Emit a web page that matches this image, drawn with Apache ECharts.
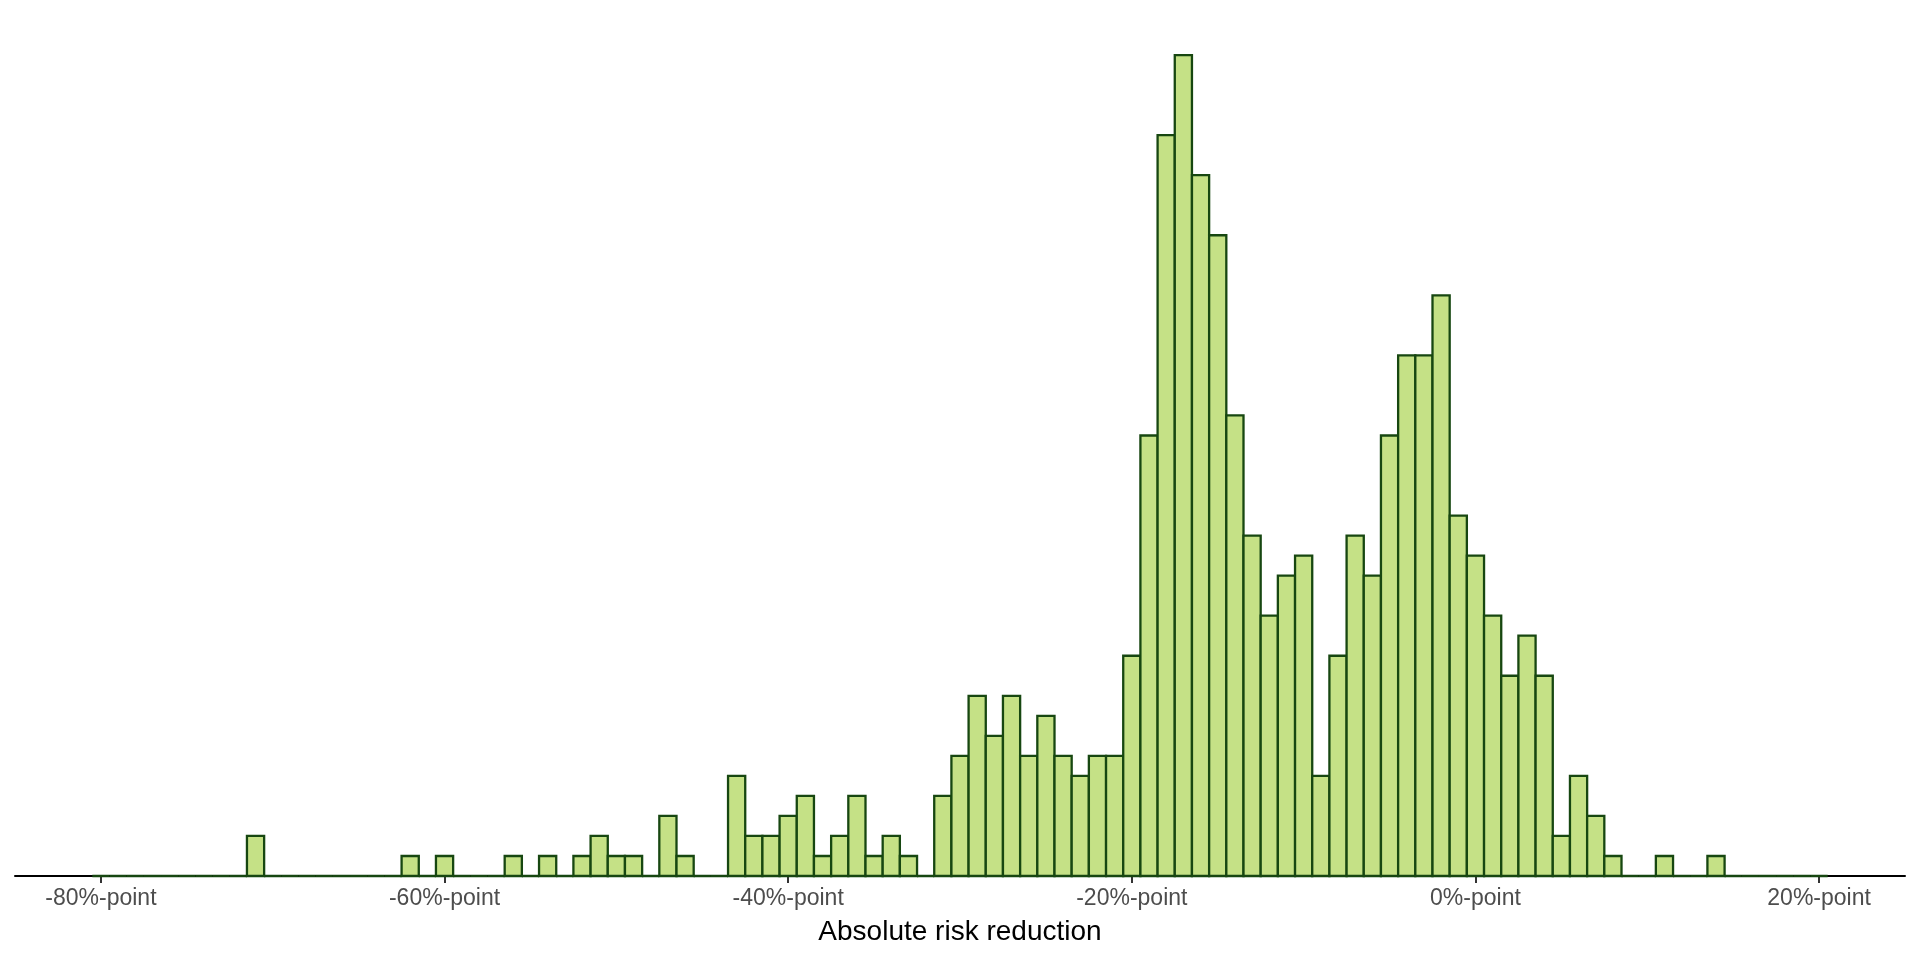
<!DOCTYPE html>
<html>
<head>
<meta charset="utf-8">
<script src="https://cdn.jsdelivr.net/npm/echarts@6/dist/echarts.min.js"></script>
<style>
html,body{margin:0;padding:0;background:#fff;}
#chart{width:1920px;height:960px;}
</style>
</head>
<body>
<div id="chart"></div>
<script>
// Bin centres (%-point), bin width 1
const binCenters = [];
for (let v = -80; v <= 20; v++) binCenters.push(v);

// Non-zero bin counts: [bin centre, count]
const observedBins = [
  [-71, 2], [-62, 1], [-60, 1], [-56, 1], [-54, 1], [-52, 1], [-51, 2], [-50, 1], [-49, 1],
  [-47, 3], [-46, 1], [-43, 5], [-42, 2], [-41, 2], [-40, 3], [-39, 4], [-38, 1], [-37, 2],
  [-36, 4], [-35, 1], [-34, 2], [-33, 1], [-31, 4], [-30, 6], [-29, 9], [-28, 7], [-27, 9],
  [-26, 6], [-25, 8], [-24, 6], [-23, 5], [-22, 6], [-21, 6], [-20, 11], [-19, 22], [-18, 37],
  [-17, 41], [-16, 35], [-15, 32], [-14, 23], [-13, 17], [-12, 13], [-11, 15], [-10, 16],
  [-9, 5], [-8, 11], [-7, 17], [-6, 15], [-5, 22], [-4, 26], [-3, 26], [-2, 29], [-1, 18],
  [0, 16], [1, 13], [2, 10], [3, 12], [4, 10], [5, 2], [6, 5], [7, 3], [8, 1], [11, 1], [14, 1]
];

const tickValues = [-80, -60, -40, -20, 0, 20];
const tickLabelSuffix = '%-point';
const xTitle = 'Absolute risk reduction';

const countMap = new Map(observedBins);
const binCounts = binCenters.map(c => countMap.get(c) || 0);
const seriesData = binCenters.map((c, i) => [c, binCounts[i]]);
const maxCount = Math.max(...binCounts);

const chart = echarts.init(document.getElementById('chart'), null, {renderer: 'canvas'});
chart.setOption({
  animation: false,
  backgroundColor: '#ffffff',
  textStyle: {fontFamily: 'Liberation Sans, Arial, sans-serif'},
  grid: {left: 15, right: 15, top: 14, bottom: 84, containLabel: false},
  xAxis: {
    type: 'value',
    min: -85,
    max: 25,
    splitLine: {show: false},
    axisLine: {show: true, onZero: false, lineStyle: {color: '#000000', width: 2}},
    axisTick: {show: true, length: 7, lineStyle: {color: '#333333', width: 2}, customValues: tickValues},
    axisLabel: {
      show: true, customValues: tickValues, margin: 11,
      color: '#4d4d4d', fontSize: 23, fontFamily: 'Liberation Sans, Arial, sans-serif',
      formatter: v => v + tickLabelSuffix
    },
    name: xTitle,
    nameLocation: 'middle',
    nameGap: 42,
    nameTextStyle: {color: '#000000', fontSize: 28, fontFamily: 'Liberation Sans, Arial, sans-serif'}
  },
  yAxis: {
    type: 'value',
    min: 0,
    max: maxCount * 1.05,
    show: false,
    splitLine: {show: false}
  },
  series: [{
    type: 'custom',
    data: seriesData,
    encode: {x: 0, y: 1},
    renderItem: function (params, api) {
      const x = api.value(0);
      const y = api.value(1);
      const p0 = api.coord([x - 0.5, 0]);
      const p1 = api.coord([x + 0.5, y]);
      return {
        type: 'rect',
        shape: {x: p0[0], y: p1[1], width: p1[0] - p0[0], height: p0[1] - p1[1]},
        style: {fill: '#c5e186', stroke: '#174711', lineWidth: 2.3}
      };
    }
  }]
});
</script>
</body>
</html>
